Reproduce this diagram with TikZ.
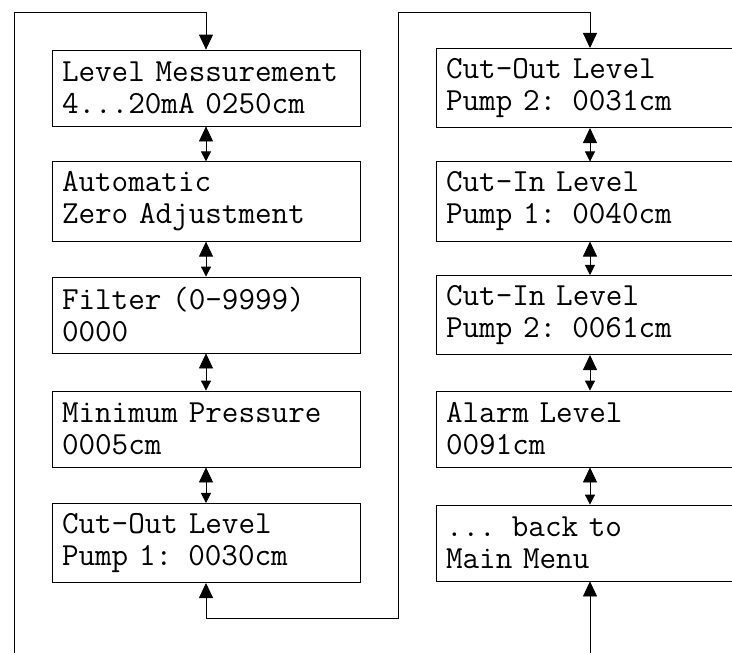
\documentclass[tikz,border=0pt]{standalone}
\usetikzlibrary{arrows.meta}
\begin{document}
\begin{tikzpicture}[x=1pt, y=-1pt, line width=0.8pt,
  menubox/.style={draw, minimum width=308, minimum height=76, text width=288, inner sep=10, align=left,
    font=\ttfamily\fontsize{32.2}{32}\selectfont},
  bighead/.tip={Triangle[length=15pt, width=14pt]},
  smallhead/.tip={Triangle[length=10pt, width=10pt]}]
\useasboundingbox (0,0) rectangle (732,653);
\node[menubox] (lm) at (206,88) {Level Messurement\\4...20mA 0250cm};
\node[menubox] (za) at (206,201.5) {Automatic\\Zero Adjustment};
\node[menubox] (flt) at (206,315) {Filter (0-9999)\\0000};
\node[menubox] (minp) at (206,429) {Minimum Pressure\\0005cm};
\node[menubox] (co1) at (206,543) {Cut-Out Level\\Pump 1: 0030cm};
\node[menubox] (co2) at (590,88) {Cut-Out Level\\Pump 2: 0031cm};
\node[menubox] (ci1) at (590,201.5) {Cut-In Level\\Pump 1: 0040cm};
\node[menubox] (ci2) at (590,315) {Cut-In Level\\Pump 2: 0061cm};
\node[menubox] (alarm) at (590,429) {Alarm Level\\0091cm};
\node[menubox] (back) at (590,543) {... back to\\Main Menu};
\coordinate (leftin) at (14,660);
\coordinate (lefttop) at (14,12);
\coordinate (lowturn) at (398,618);
\coordinate (highturn) at (398,12);
\coordinate (rightin) at (590,660);
\draw[-bighead] (leftin) -- (lefttop) -| (lm.north);
\draw[bighead-bighead] (co1.south) |- (lowturn) -- (highturn) -| (co2.north);
\draw[-bighead] (rightin) -- (back.south);
\foreach \a/\b in {lm/za, za/flt, flt/minp, minp/co1, co2/ci1, ci1/ci2, ci2/alarm, alarm/back}
  \draw[bighead-smallhead] (\a.south) -- (\b.north);
\end{tikzpicture}
\end{document}
